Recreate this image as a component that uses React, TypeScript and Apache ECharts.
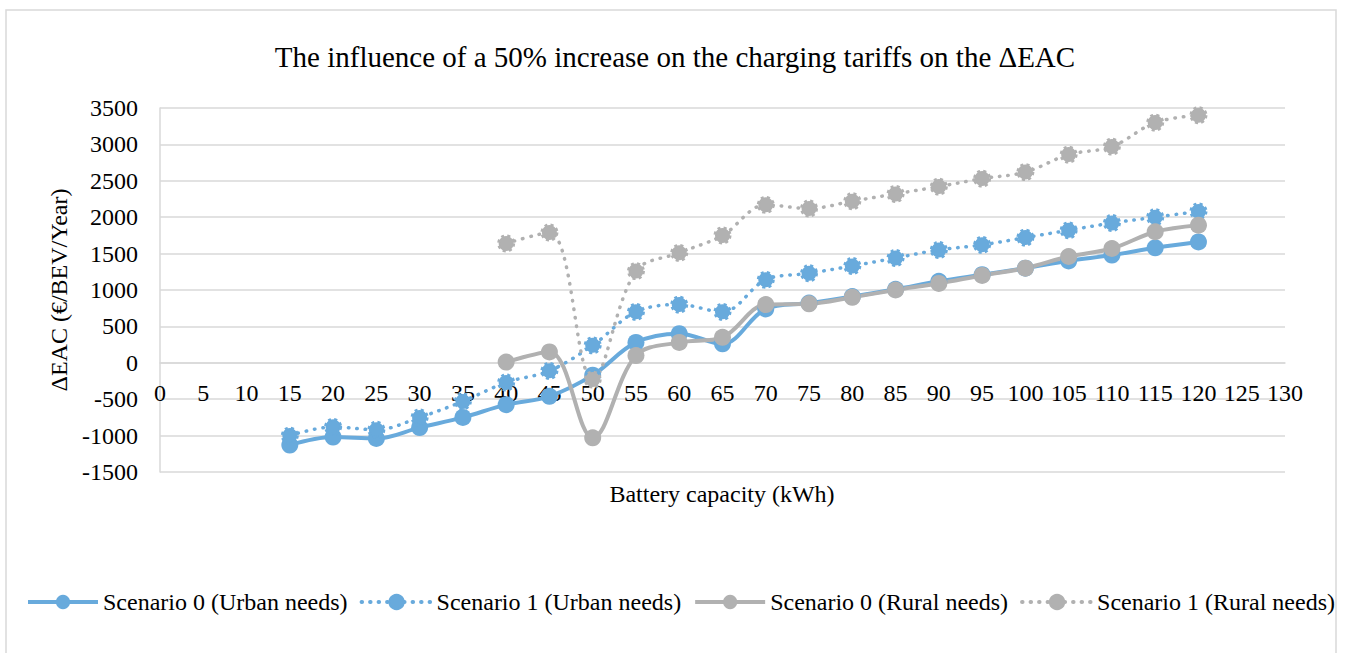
import React, { useEffect, useRef } from "react";
import * as echarts from "echarts";

const titleText = "The influence of a 50% increase on the charging tariffs on the ΔEAC";
const yAxisName = "ΔEAC (€/BEV/Year)";
const xAxisName = "Battery capacity (kWh)";

const seriesNames = [
  "Scenario 0 (Urban needs)",
  "Scenario 1 (Urban needs)",
  "Scenario 0 (Rural needs)",
  "Scenario 1 (Rural needs)",
];

const xUrban = [15, 20, 25, 30, 35, 40, 45, 50, 55, 60, 65, 70, 75, 80, 85, 90, 95, 100, 105, 110, 115, 120];
const s0Urban = [-1130, -1020, -1040, -890, -750, -575, -460, -170, 280, 400, 260, 740, 820, 910, 1010, 1120, 1210, 1300, 1400, 1480, 1580, 1660];
const s1Urban = [-1000, -880, -920, -750, -530, -270, -110, 240, 700, 800, 700, 1140, 1230, 1330, 1440, 1550, 1620, 1720, 1820, 1920, 2000, 2080];

const xRural = [40, 45, 50, 55, 60, 65, 70, 75, 80, 85, 90, 95, 100, 105, 110, 115, 120];
const s0Rural = [10, 150, -1030, 100, 280, 350, 800, 810, 900, 1000, 1090, 1200, 1300, 1460, 1570, 1800, 1890];
const s1Rural = [1640, 1790, -230, 1260, 1510, 1750, 2170, 2120, 2220, 2320, 2420, 2530, 2620, 2860, 2970, 3300, 3400];

const BLUE = "#68aadc";
const GRAY = "#b1b1b1";
const FONT = "Liberation Serif";

function pairs(xs: number[], ys: number[]) {
  return xs.map((x, i) => [x, ys[i]]);
}

export default function App() {
  const ref = useRef<HTMLDivElement>(null);
  useEffect(() => {
    if (!ref.current) return;
    const chart = echarts.init(ref.current, undefined, { renderer: "svg" });
    const solid = (name: string, color: string, data: number[][]) => ({
      name,
      type: "line",
      data,
      smooth: 0.35,
      symbol: "circle",
      symbolSize: 17,
      lineStyle: { color, width: 4 },
      itemStyle: { color },
    });
    const dotted = (name: string, color: string, data: number[][]) => ({
      name,
      type: "line",
      data,
      smooth: 0.35,
      symbol: "circle",
      symbolSize: 15,
      lineStyle: { color, width: 3.5, type: [0.5, 8], cap: "round" },
      itemStyle: { color, borderColor: color, borderWidth: 3, borderType: "dotted" },
    });
    chart.setOption({
      animation: false,
      backgroundColor: "#ffffff",
      textStyle: { fontFamily: FONT, color: "#000" },
      title: {
        text: titleText,
        left: "center",
        top: 37,
        textStyle: { fontFamily: FONT, fontSize: 29, fontWeight: "normal", color: "#000" },
      },
      grid: { left: 160, right: 65, top: 108, bottom: 181, containLabel: false },
      legend: {
        left: 26,
        top: 590,
        padding: 0,
        itemWidth: 70,
        itemHeight: 18,
        itemGap: 12,
        lineStyle: { width: 4 },
        textStyle: { fontFamily: FONT, fontSize: 24, color: "#000" },
        data: seriesNames,
      },
      xAxis: {
        type: "value",
        min: 0,
        max: 130,
        interval: 5,
        offset: -109.2,
        axisLine: { onZero: false, lineStyle: { color: "#d9d9d9", width: 1.5 } },
        axisTick: { show: false },
        splitLine: { show: false },
        axisLabel: { fontFamily: FONT, fontSize: 24, color: "#000", margin: 18 },
      },
      yAxis: {
        type: "value",
        min: -1500,
        max: 3500,
        interval: 500,
        name: yAxisName,
        nameLocation: "middle",
        nameGap: 76,
        nameTextStyle: { fontFamily: FONT, fontSize: 24, color: "#000" },
        axisLine: { show: true, onZero: false, lineStyle: { color: "#d9d9d9", width: 1.5 } },
        axisTick: { show: false },
        splitLine: { lineStyle: { color: "#d9d9d9", width: 1.5 } },
        axisLabel: {
          fontFamily: FONT,
          fontSize: 24,
          color: "#000",
          margin: 22,
          formatter: (v: number) => String(v),
        },
      },
      graphic: [
        {
          type: "rect",
          shape: { x: 6, y: 10, width: 1330, height: 660 },
          style: { fill: "none", stroke: "#d9d9d9", lineWidth: 1.5 },
          silent: true,
        },
        {
          type: "text",
          x: 722,
          y: 494,
          style: {
            text: xAxisName,
            font: `24px ${FONT}`,
            fill: "#000",
            textAlign: "center",
            textVerticalAlign: "middle",
          },
        },
      ],
      series: [
        solid(seriesNames[0], BLUE, pairs(xUrban, s0Urban)),
        dotted(seriesNames[1], BLUE, pairs(xUrban, s1Urban)),
        solid(seriesNames[2], GRAY, pairs(xRural, s0Rural)),
        dotted(seriesNames[3], GRAY, pairs(xRural, s1Rural)),
      ],
    });
    return () => chart.dispose();
  }, []);
  return (
    <div
      ref={ref}
      style={{ position: "fixed", left: 0, top: 0, width: 1350, height: 653, background: "#fff" }}
    />
  );
}
